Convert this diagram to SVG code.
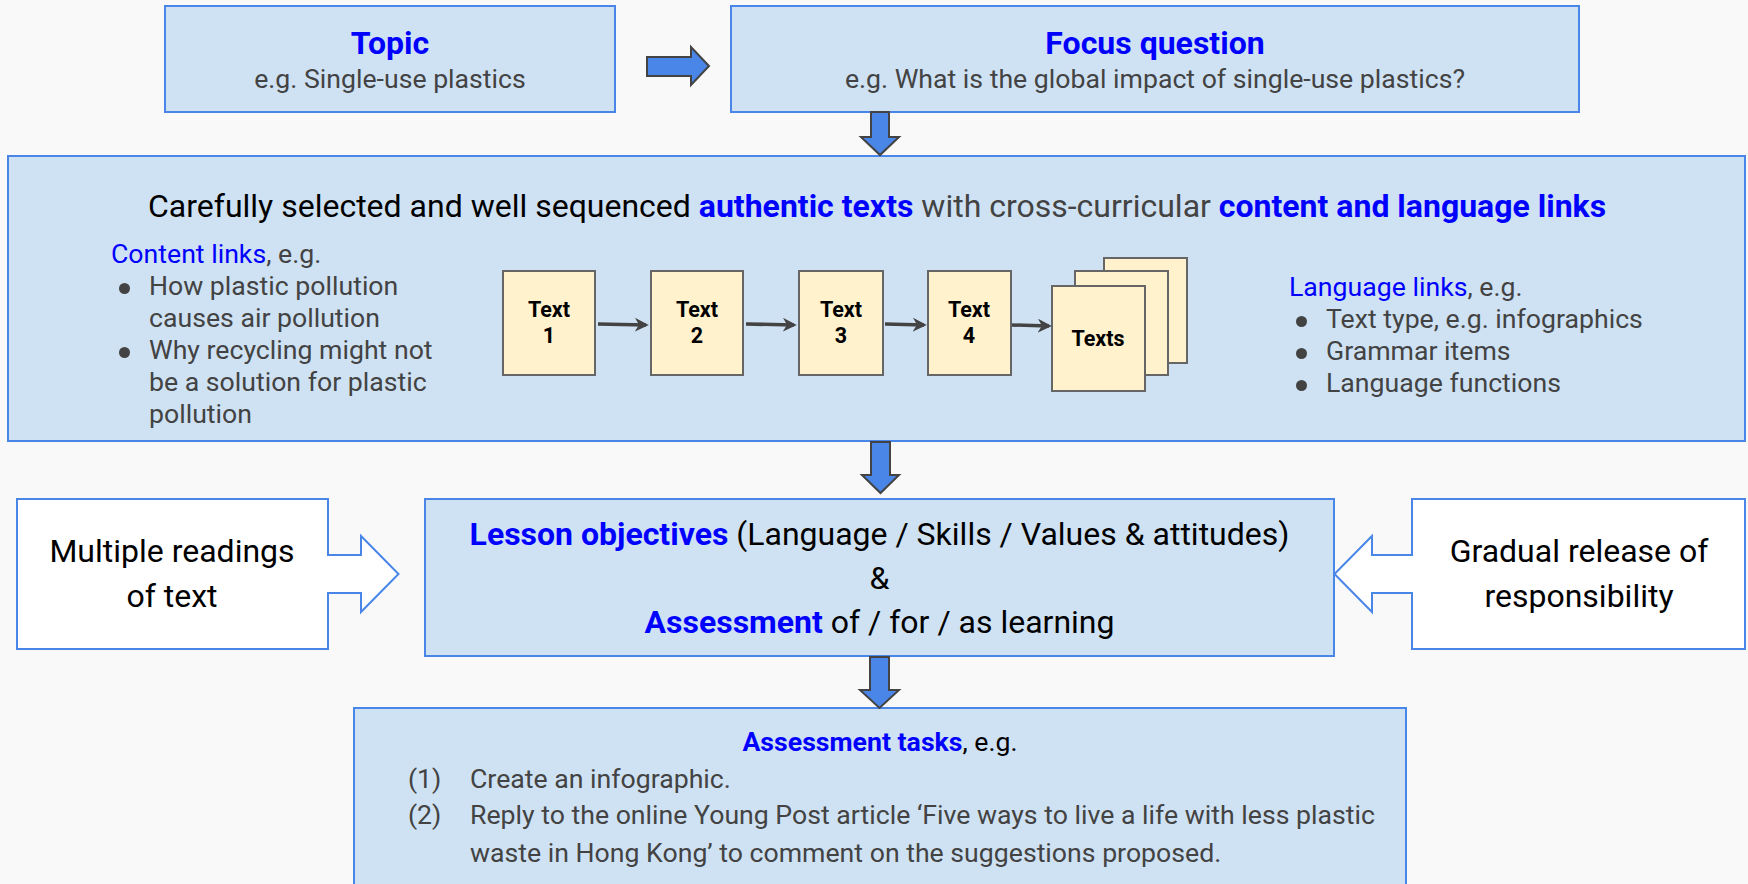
<svg xmlns="http://www.w3.org/2000/svg" width="1748" height="884" viewBox="0 0 1748 884">
<style>
text{font-family:Roboto,"Liberation Sans",sans-serif}
.box{fill:#cfe2f3;stroke:#4a86e8;stroke-width:2}
.call{fill:#ffffff;stroke:#4a86e8;stroke-width:2}
.doc{fill:#fff2cc;stroke:#666666;stroke-width:2}
.blk{fill:#4a86e8;stroke:#434343;stroke-width:2}
.blue{fill:#0000ff}
.gray{fill:#434343}
.b{font-weight:bold}
.lbl{font-size:21.5px;font-weight:bold;fill:#000;text-anchor:middle}
.flow{stroke:#434343;stroke-width:3.5;fill:none;marker-end:url(#ah)}
</style>
<defs>
<marker id="ah" viewBox="0 0 10 10" refX="8" refY="5" markerWidth="4" markerHeight="4" orient="auto" markerUnits="strokeWidth">
<path d="M0,0 L10,5 L0,10 L3,5 z" fill="#434343"/>
</marker>
</defs>
<rect width="1748" height="884" fill="#f9f9f9"/>

<g id="topic">
<rect class="box" x="165" y="6" width="450" height="106"/>
<text x="390" y="54" text-anchor="middle" font-size="32" class="blue b">Topic</text>
<text x="390" y="88" text-anchor="middle" font-size="26.67" class="gray">e.g. Single-use plastics</text>
</g>

<g id="focus">
<rect class="box" x="731" y="6" width="848" height="106"/>
<text x="1155" y="54" text-anchor="middle" font-size="32" class="blue b">Focus question</text>
<text x="1155" y="88" text-anchor="middle" font-size="26.67" class="gray">e.g. What is the global impact of single-use plastics?</text>
</g>

<g id="texts-box">
<rect class="box" x="8" y="156" width="1737" height="285"/>
<text x="148" y="217" font-size="32"><tspan fill="#000">Carefully selected and well sequenced </tspan><tspan class="blue b">authentic texts</tspan><tspan class="gray"> with cross-curricular </tspan><tspan class="blue b">content and language links</tspan></text>
<text x="111" y="263" font-size="26.67"><tspan class="blue">Content links</tspan><tspan class="gray">, e.g.</tspan></text>
<g class="gray" font-size="26.67">
<circle cx="124.5" cy="288.5" r="5.5"/>
<circle cx="124.5" cy="352.5" r="5.5"/>
<text x="149" y="295">How plastic pollution</text>
<text x="149" y="327">causes air pollution</text>
<text x="149" y="359">Why recycling might not</text>
<text x="149" y="391">be a solution for plastic</text>
<text x="149" y="423">pollution</text>
</g>
<text x="1289" y="296" font-size="26.67"><tspan class="blue">Language links</tspan><tspan class="gray">, e.g.</tspan></text>
<g class="gray" font-size="26.67">
<circle cx="1301.5" cy="321.5" r="5.5"/>
<circle cx="1301.5" cy="353.5" r="5.5"/>
<circle cx="1301.5" cy="385.5" r="5.5"/>
<text x="1326" y="328">Text type, e.g. infographics</text>
<text x="1326" y="360">Grammar items</text>
<text x="1326" y="392">Language functions</text>
</g>
</g>

<g id="text1">
<rect class="doc" x="503" y="271" width="92" height="104"/>
<text class="lbl" x="549" y="317">Text</text>
<text class="lbl" x="549" y="343">1</text>
</g>
<g id="text2">
<rect class="doc" x="651" y="271" width="92" height="104"/>
<text class="lbl" x="697" y="317">Text</text>
<text class="lbl" x="697" y="343">2</text>
</g>
<g id="text3">
<rect class="doc" x="799" y="271" width="84" height="104"/>
<text class="lbl" x="841" y="317">Text</text>
<text class="lbl" x="841" y="343">3</text>
</g>
<g id="text4">
<rect class="doc" x="928" y="271" width="83" height="104"/>
<text class="lbl" x="969" y="317">Text</text>
<text class="lbl" x="969" y="343">4</text>
</g>
<g id="texts">
<rect class="doc" x="1104" y="258" width="83" height="105"/>
<rect class="doc" x="1075" y="271" width="93" height="104"/>
<rect class="doc" x="1052" y="286" width="93" height="105"/>
<text class="lbl" x="1098" y="346">Texts</text>
</g>

<g id="multiple-readings">
<path class="call" d="M17,499 H328 V555 H361 V536 L398.5,574 L361,612 V593 H328 V649 H17 Z"/>
<text x="172" y="562" text-anchor="middle" font-size="32" fill="#000">Multiple readings</text>
<text x="172" y="607" text-anchor="middle" font-size="32" fill="#000">of text</text>
</g>

<g id="gradual-release">
<path class="call" d="M1745,499 H1412 V555 H1372 V536 L1334.5,574 L1372,612 V593 H1412 V649 H1745 Z"/>
<text x="1579" y="562" text-anchor="middle" font-size="32" fill="#000">Gradual release of</text>
<text x="1579" y="607" text-anchor="middle" font-size="32" fill="#000">responsibility</text>
</g>

<g id="lesson">
<rect class="box" x="425" y="499" width="909" height="157"/>
<text x="879.5" y="545" text-anchor="middle" font-size="32"><tspan class="blue b">Lesson objectives</tspan><tspan fill="#000"> (Language / Skills / Values &amp; attitudes)</tspan></text>
<text x="879.5" y="589" text-anchor="middle" font-size="32" fill="#000">&amp;</text>
<text x="879.5" y="633" text-anchor="middle" font-size="32"><tspan class="blue b">Assessment</tspan><tspan fill="#000"> of / for / as learning</tspan></text>
</g>

<g id="assessment-tasks">
<rect class="box" x="354" y="708" width="1052" height="200"/>
<text x="880" y="751" text-anchor="middle" font-size="26.67"><tspan class="blue b">Assessment tasks</tspan><tspan fill="#000">, e.g.</tspan></text>
<g class="gray" font-size="26.67">
<text x="408" y="788">(1)</text>
<text x="470" y="788">Create an infographic.</text>
<text x="408" y="824">(2)</text>
<text x="470" y="824">Reply to the online Young Post article ‘Five ways to live a life with less plastic</text>
<text x="470" y="862">waste in Hong Kong’ to comment on the suggestions proposed.</text>
</g>
</g>

<g id="connectors">
<path class="blk" d="M647,57 H691 V47 L709,66 L691,85 V76 H647 Z"/>
<path class="blk" d="M871,112 V137 H861 L880,155 L899,137 H889 V112 Z"/>
<path class="blk" d="M871,442 V475 H862 L880.5,493 L899,475 H890 V442 Z"/>
<path class="blk" d="M870,657 V690 H860 L879.5,708 L899,690 H889 V657 Z"/>
<line class="flow" x1="598" y1="324" x2="646" y2="325"/>
<line class="flow" x1="746" y1="324" x2="794" y2="325"/>
<line class="flow" x1="885" y1="324" x2="924" y2="325"/>
<line class="flow" x1="1012" y1="325" x2="1049" y2="326"/>
</g>
</svg>
